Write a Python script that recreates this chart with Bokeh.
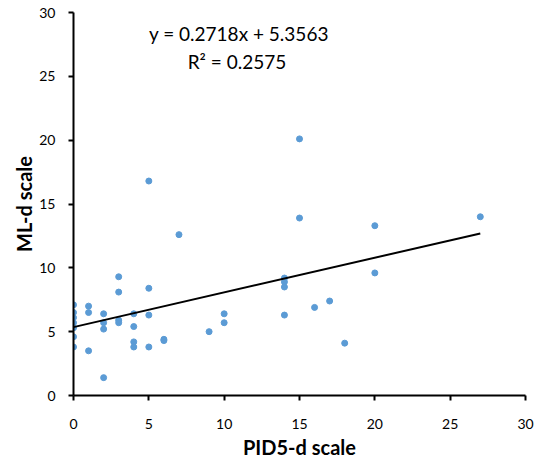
from bokeh.plotting import figure
from bokeh.models import Range1d, Label, FixedTicker
from bokeh.embed import file_html
from bokeh.resources import INLINE

pid5_d = [0, 0, 0, 0, 0, 0, 0, 1, 1, 1, 2, 2, 2, 2, 3, 3, 3, 3, 4, 4, 4, 4,
          5, 5, 5, 5, 6, 6, 7, 9, 10, 10, 14, 14, 14, 14, 15, 15, 16, 17, 18,
          20, 20, 27]
ml_d = [7.1, 6.5, 6.1, 5.7, 5.3, 4.6, 3.8, 7.0, 6.5, 3.5, 6.4, 5.7, 5.2, 1.4,
        9.3, 8.1, 5.9, 5.7, 6.4, 5.4, 4.2, 3.8, 16.8, 8.4, 6.3, 3.8, 4.4, 4.3,
        12.6, 5.0, 6.4, 5.7, 9.2, 8.9, 8.5, 6.3, 20.1, 13.9, 6.9, 7.4, 4.1,
        13.3, 9.6, 14.0]
slope = 0.2718
intercept = 5.3563
r_squared = 0.2575
ticks = [0, 5, 10, 15, 20, 25, 30]

FONT = "Lato"

p = figure(width=535, height=461, output_backend="svg", toolbar_location=None,
           x_range=Range1d(0, 30), y_range=Range1d(0, 30),
           min_border_left=73, min_border_right=10, min_border_top=12,
           min_border_bottom=61)
p.outline_line_color = None
p.xgrid.visible = False
p.ygrid.visible = False

for ax in (p.xaxis[0], p.yaxis[0]):
    ax.ticker = FixedTicker(ticks=ticks)
    ax.axis_line_width = 2
    ax.axis_line_color = "black"
    ax.major_tick_line_width = 2
    ax.major_tick_line_color = "black"
    ax.major_tick_out = 5
    ax.major_tick_in = 0
    ax.minor_tick_line_color = None
    ax.major_label_text_font = FONT
    ax.major_label_text_font_size = "14px"
    ax.major_label_text_color = "black"
    ax.axis_label_text_font = FONT
    ax.axis_label_text_font_size = "20px"
    ax.axis_label_text_font_style = "bold"
    ax.axis_label_text_color = "black"

p.xaxis.axis_label = "PID5-d scale"
p.yaxis.axis_label = "ML-d scale"
p.xaxis.major_label_standoff = 18
p.yaxis.major_label_standoff = 13
p.xaxis.axis_label_standoff = 3
p.yaxis.axis_label_standoff = 0

p.scatter(pid5_d, ml_d, size=6, color="#5B9BD5", line_color="#5B9BD5")

x_end = max(pid5_d)
p.line([0, x_end], [intercept, intercept + slope * x_end], line_color="black",
       line_width=2)

p.add_layout(Label(x=10.98, y=28.36, text=f"y = {slope}x + {intercept}",
                   text_align="center", text_baseline="middle",
                   text_font=FONT, text_font_size="19px", text_color="black"))
p.add_layout(Label(x=10.85, y=26.16, text=f"R\u00b2 = {r_squared}",
                   text_align="center", text_baseline="middle",
                   text_font=FONT, text_font_size="19px", text_color="black"))

open("out.html", "w").write(file_html(p, INLINE))
